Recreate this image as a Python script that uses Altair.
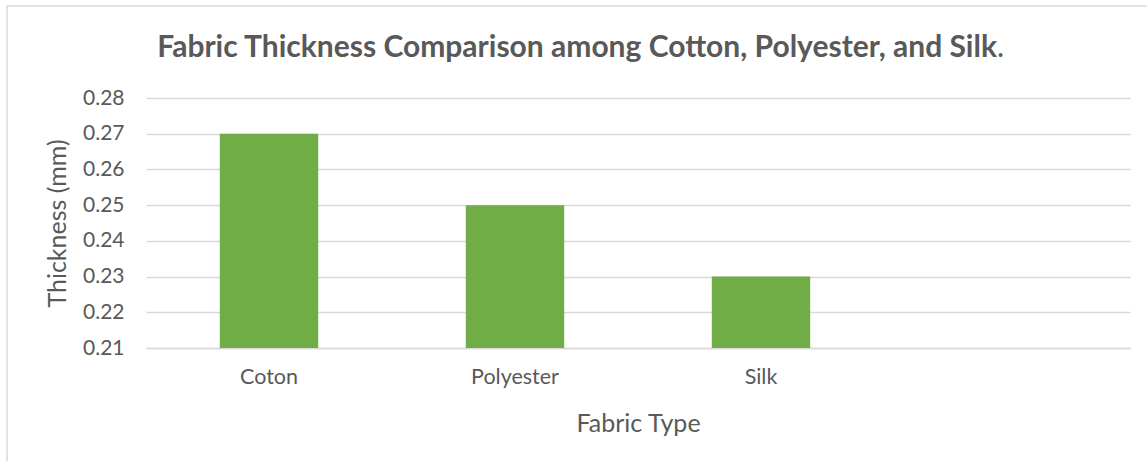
import altair as alt
import pandas as pd

categories = ["Coton", "Polyester", "Silk"]
domain_cats = ["Coton", "Polyester", "Silk", ""]
thickness = [0.27, 0.25, 0.23]
y_ticks = [0.21, 0.22, 0.23, 0.24, 0.25, 0.26, 0.27, 0.28]
title_main = "Fabric Thickness Comparison among Cotton, Polyester, and Silk"
title_end = "."

df = pd.DataFrame({"fabric": categories, "thickness": thickness})
one = pd.DataFrame({"main": [title_main], "end": [title_end]})

FONT = "Lato"
TXT = "#595959"
W, H = 984, 250

bars = alt.Chart(df).mark_bar(color="#70ad47", clip=True).encode(
    x=alt.X(
        "fabric:N",
        scale=alt.Scale(domain=domain_cats, paddingInner=0.6, paddingOuter=0.3),
        sort=domain_cats,
        axis=alt.Axis(
            title="Fabric Type",
            labelAngle=0,
            labelFont=FONT,
            labelFontSize=21.5,
            labelColor=TXT,
            labelPadding=18,
            domain=True,
            domainColor="#d9d9d9",
            domainWidth=1.5,
            ticks=False,
            grid=False,
            titleFont=FONT,
            titleFontSize=25,
            titleFontWeight="normal",
            titleColor=TXT,
            titleX=W / 2,
            titleY=75,
            titleBaseline="middle",
        ),
    ),
    y=alt.Y(
        "thickness:Q",
        scale=alt.Scale(domain=[0.21, 0.28], zero=False, nice=False),
        axis=alt.Axis(
            title="Thickness (mm)",
            values=y_ticks,
            format=".2f",
            labelFont=FONT,
            labelFontSize=21,
            labelColor=TXT,
            labelPadding=22,
            domain=False,
            ticks=False,
            grid=True,
            gridColor="#d9d9d9",
            gridWidth=1.5,
            titleFont=FONT,
            titleFontSize=25,
            titleFontWeight="normal",
            titleColor=TXT,
            titleAngle=-90,
            titleX=-89,
            titleY=H / 2,
            titleBaseline="middle",
        ),
    ),
)

frame = alt.Chart(one).mark_rect(fill=None, stroke="#d9d9d9", strokeWidth=1.5).encode(
    x=alt.value(-139), x2=alt.value(1020), y=alt.value(-92), y2=alt.value(380)
)

title_bold = alt.Chart(one).mark_text(
    font=FONT, fontSize=30, fontWeight="bold", color=TXT,
    align="right", baseline="alphabetic"
).encode(text="main:N", x=alt.value(851), y=alt.value(-41))

title_dot = alt.Chart(one).mark_text(
    font=FONT, fontSize=30, fontWeight="normal", color=TXT,
    align="left", baseline="alphabetic"
).encode(text="end:N", x=alt.value(851), y=alt.value(-41))

chart = alt.layer(frame, bars, title_bold, title_dot).properties(
    width=W,
    height=H,
    autosize=alt.AutoSizeParams(type="none"),
    padding={"left": 146, "top": 98, "right": 17, "bottom": 113},
    background="white",
).configure_view(stroke=None)

chart.save("out.html", embed_options={"renderer": "svg", "actions": False})
